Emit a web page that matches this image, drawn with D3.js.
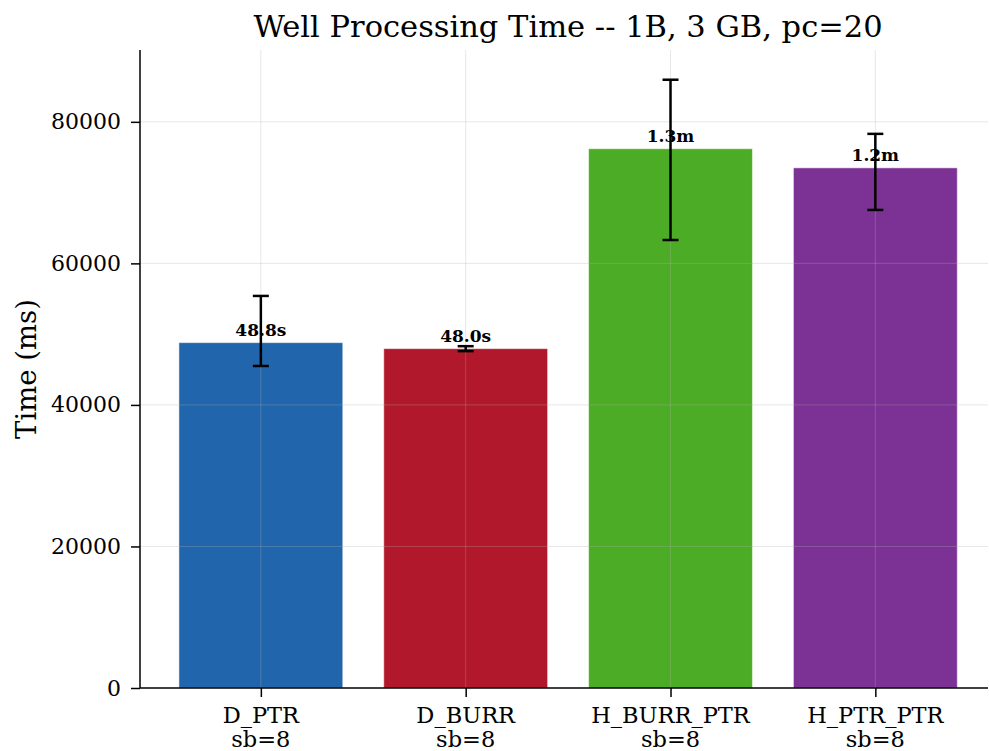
<!DOCTYPE html>
<html>
<head>
<meta charset="utf-8">
<script src="https://cdn.jsdelivr.net/npm/d3@7.9.0/dist/d3.min.js"></script>
<style>
  body { margin: 0; background: #fff; }
  svg text { font-family: "DejaVu Serif", serif; fill: #000; }
</style>
</head>
<body>
<svg id="chart" width="989" height="751"></svg>
<script>
// chart data
const categories = ['D_PTR', 'D_BURR', 'H_BURR_PTR', 'H_PTR_PTR'];
const subLabels = ['sb=8', 'sb=8', 'sb=8', 'sb=8'];
const times = [48800, 47950, 76200, 73500];
const errLow = [45500, 47600, 63300, 67550];
const errHigh = [55400, 48300, 85950, 78300];
const barLabels = ['48.8s', '48.0s', '1.3m', '1.2m'];
const colors = ['#2166ac', '#b2182b', '#4dac26', '#7b3294'];
const yTicks = [0, 20000, 40000, 60000, 80000];

const svg = d3.select('#chart');
const mLeft = 140, mRight = 988, mTop = 50, mBottom = 688;

const x = d3.scaleLinear().domain([-0.59, 3.55]).range([mLeft, mRight]);
const y = d3.scaleLinear().domain([0, 90150]).range([mBottom, mTop]);
const barW = x(0.8) - x(0);

// bars
svg.append('g').selectAll('rect')
  .data(times)
  .join('rect')
  .attr('x', (d, i) => x(i) - barW / 2)
  .attr('y', d => y(d))
  .attr('width', barW)
  .attr('height', d => y(0) - y(d))
  .attr('fill', (d, i) => colors[i])
  .attr('stroke', '#fff')
  .attr('stroke-opacity', 0.5)
  .attr('stroke-width', 1);

// grid drawn over the bars
const grid = svg.append('g').attr('stroke', '#b0b0b0').attr('stroke-opacity', 0.3).attr('stroke-width', 1);
yTicks.slice(1).forEach(t => {
  grid.append('line').attr('x1', mLeft).attr('x2', mRight).attr('y1', y(t)).attr('y2', y(t));
});
categories.forEach((c, i) => {
  grid.append('line').attr('x1', x(i)).attr('x2', x(i)).attr('y1', mTop).attr('y2', mBottom);
});

// error bars
const eb = svg.append('g').attr('stroke', '#000').attr('stroke-width', 2.5);
times.forEach((d, i) => {
  eb.append('line').attr('x1', x(i)).attr('x2', x(i)).attr('y1', y(errLow[i])).attr('y2', y(errHigh[i]));
  [errLow[i], errHigh[i]].forEach(v => {
    eb.append('line').attr('x1', x(i) - 8).attr('x2', x(i) + 8).attr('y1', y(v)).attr('y2', y(v));
  });
});

// value labels
svg.append('g').selectAll('text')
  .data(times)
  .join('text')
  .attr('x', (d, i) => x(i))
  .attr('y', d => y(d) - 7)
  .attr('text-anchor', 'middle')
  .attr('font-size', 17)
  .attr('font-weight', 'bold')
  .text((d, i) => barLabels[i]);

// y axis
const yAxis = svg.append('g')
  .attr('transform', `translate(${mLeft},0)`)
  .call(d3.axisLeft(y).tickValues(yTicks).tickFormat(d3.format('d')).tickSize(9).tickPadding(10));
yAxis.select('.domain').attr('d', `M0,${mTop}V${mBottom}`).attr('stroke-width', 1.5);
yAxis.selectAll('.tick line').attr('stroke-width', 1.5);
yAxis.selectAll('.tick text').attr('font-size', 22).attr('font-family', 'DejaVu Serif').attr('fill', '#000');

// x axis
const xAxis = svg.append('g')
  .attr('transform', `translate(0,${mBottom})`)
  .call(d3.axisBottom(x).tickValues(d3.range(categories.length)).tickFormat('').tickSize(9));
xAxis.select('.domain').attr('d', `M${mLeft},0H${mRight}`).attr('stroke-width', 1.5);
xAxis.selectAll('.tick line').attr('stroke-width', 1.5);

const xl = svg.append('g').attr('font-size', 22.5).attr('text-anchor', 'middle');
categories.forEach((c, i) => {
  xl.append('text').attr('x', x(i)).attr('y', 723).text(c);
  xl.append('text').attr('x', x(i)).attr('y', 747).text(subLabels[i]);
});

// y label
svg.append('text')
  .attr('transform', 'translate(36,369) rotate(-90)')
  .attr('text-anchor', 'middle')
  .attr('font-size', 27.5)
  .text('Time (ms)');

// title
svg.append('text')
  .attr('x', 568)
  .attr('y', 37)
  .attr('text-anchor', 'middle')
  .attr('font-size', 30.5)
  .text('Well Processing Time -- 1B, 3 GB, pc=20');
</script>
</body>
</html>
